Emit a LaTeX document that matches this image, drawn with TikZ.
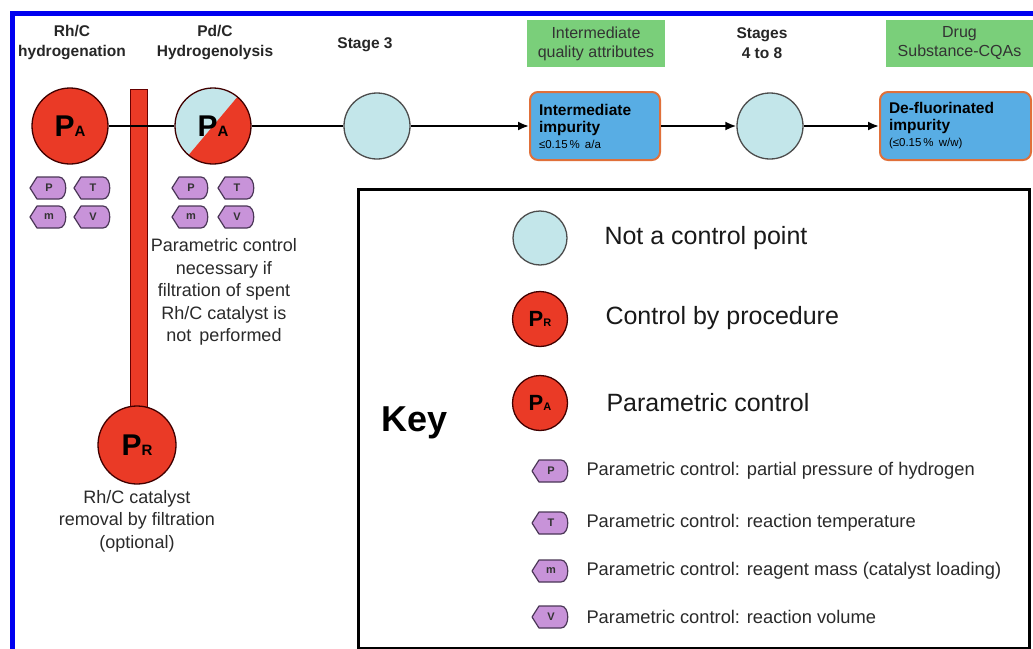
\documentclass[tikz,border=0pt]{standalone}
\usepackage{fontspec}
\setmainfont{Liberation Sans}
\usetikzlibrary{arrows.meta}
\definecolor{pred}{HTML}{EA3A26}
\definecolor{pblue}{HTML}{C3E6EA}
\definecolor{tagfill}{HTML}{C893D9}
\definecolor{tagline}{HTML}{4A3656}
\definecolor{boxblue}{HTML}{58ADE4}
\definecolor{boxline}{HTML}{E0703A}
\definecolor{grn}{HTML}{7ACF7A}
\definecolor{frameblue}{HTML}{0000F0}
\definecolor{txtgray}{HTML}{2A2A2A}
\newcommand\fsz[2]{\fontsize{#1}{#2}\selectfont}
\newcommand\PX[3]{{\fsz{#1}{#1}\bfseries P}{\fsz{#2}{#2}\bfseries #3}}
\tikzset{
  ctrl/.style={circle, draw=black!75!red, line width=1.3pt, fill=pred, minimum size=76pt, inner sep=0pt},
  nocp/.style={circle, draw=black!70, line width=1.3pt, fill=pblue, minimum size=66pt, inner sep=0pt},
  tagsh/.style={draw=tagline, fill=tagfill, line width=1.2pt, line join=round},
  tagn/.style={inner sep=0pt, font=\fsz{11}{12}\bfseries, text=black!80},
  qbox/.style={rectangle, rounded corners=8pt, draw=boxline, line width=2pt, fill=boxblue, minimum height=68pt,
    inner sep=9pt, align=left, font=\fsz{15.5}{17}\bfseries},
  gbox/.style={rectangle, fill=grn, minimum height=47pt, inner sep=0pt, align=center, font=\fsz{16}{19}, text=black!80},
  head/.style={align=center, font=\fsz{15.5}{20}\bfseries, text=black!85},
  note/.style={align=center, font=\fsz{18}{22.4}, text=txtgray},
  keytxt/.style={anchor=west, font=\fsz{25}{28}, text=black!90},
  tagtxt/.style={anchor=west, font=\fsz{18.3}{20}, text=txtgray},
  link/.style={line width=2pt, black},
  arr/.style={link, -{Latex[length=11pt,width=9pt]}}
}
% tag: name, x, y, letter
\newcommand\tagat[4]{%
  \draw[tagsh] (#2-18,#3) -- (#2-11,#3-11) -- (#2+11,#3-11) .. controls (#2+20,#3-11) and (#2+20,#3+11) .. (#2+11,#3+11) -- (#2-11,#3+11) -- cycle;
  \node[tagn] (#1) at (#2+1,#3) {#4};}
\begin{document}
\begin{tikzpicture}[x=1pt,y=-1pt]
\useasboundingbox (0,0) rectangle (1033,648);
\fill[white] (0,0) rectangle (1033,648);
% frame
\draw[frameblue, line width=5pt] (12,650) -- (12,13.5) -- (1035,13.5);
% headers
\node[head] (h1) at (72,43) {Rh/C\\hydrogenation};
\node[head] (h2) at (215,43) {Pd/C\\Hydrogenolysis};
\node[head] (h3) at (365,45) {Stage 3};
\node[gbox, minimum width=138pt] (g1) at (596,43.5) {Intermediate\\quality attributes};
\node[head] (h4) at (762,43) {Stages\\4 to 8};
\node[gbox, minimum width=147pt] (g2) at (959.5,43.5) {Drug\\Substance-CQAs};
% red bar
\node[rectangle, fill=pred, draw=black!60!red, line width=1pt, minimum width=17pt, minimum height=325pt, anchor=north, inner sep=0pt] (bar) at (138.5,89) {};
% main nodes
\node[ctrl] (pa1) at (70,126) {\PX{30}{15}{A}};
\node[circle, draw=black!75!red, line width=1.3pt, minimum size=76pt, inner sep=0pt,
  path picture={
    \fill[pblue] (path picture bounding box.north west) rectangle (path picture bounding box.south east);
    \fill[pred] ([shift={(-50:60)}]path picture bounding box.center) -- ([shift={(130:60)}]path picture bounding box.center)
      -- ([shift={(40:80)}]path picture bounding box.center) -- cycle;
  }] (pa2) at (213,126) {\PX{30}{15}{A}};
\node[nocp] (s3) at (377,126) {};
\node[qbox, minimum width=130pt, text width=112pt] (ib) at (595,126) {Intermediate\\impurity\\[-1pt]{\fsz{11.5}{13}\mdseries ≤0.15\,\% a/a}};
\node[nocp] (s48) at (770,126) {};
\node[qbox, minimum width=151pt, text width=133pt] (db) at (955.5,126) {De-fluorinated\\impurity\\[-1pt]{\fsz{11.5}{13}\mdseries (≤0.15\,\% w/w)}};
\draw[link] (pa1) -- (pa2);
\draw[link] (pa2) -- (s3);
\draw[arr] (s3) -- (ib);
\draw[arr] (ib) -- (s48);
\draw[arr] (s48) -- (db);
% tags
\tagat{t1p}{48}{188}{P}
\tagat{t1t}{92}{188}{T}
\tagat{t1m}{48}{217}{m}
\tagat{t1v}{92}{217}{V}
\tagat{t2p}{190}{188}{P}
\tagat{t2t}{236}{188}{T}
\tagat{t2m}{190}{217}{m}
\tagat{t2v}{236}{217}{V}
\node[note] (n1) at (224,292) {Parametric control\\necessary if\\filtration of spent\\Rh/C catalyst is\\not\, performed};
\node[ctrl, minimum size=78pt] (pr) at (137,445) {\PX{30}{15}{R}};
\node[note] (n2) at (137,521) {Rh/C catalyst\\removal by filtration\\(optional)};
% key
\node[rectangle, draw=black, line width=3pt, minimum width=671pt, minimum height=459pt, anchor=north west, inner sep=0pt] (key) at (356.5,187.5) {};
\node[font=\fsz{36}{40}\bfseries] (keyl) at (415,423) {Key};
\node[nocp, minimum size=54pt] (k1) at (540,238) {};
\node[keytxt] (k1t) at (601,238) {Not a control point};
\node[ctrl, minimum size=55pt] (k2) at (540,319) {\PX{22}{11}{R}};
\node[keytxt] (k2t) at (602,318) {Control by procedure};
\node[ctrl, minimum size=55pt] (k3) at (540,403) {\PX{22}{11}{A}};
\node[keytxt] (k3t) at (603,403) {Parametric control};
\tagat{kp}{550}{471}{P}
\node[tagtxt] (kpt) at (583,471) {Parametric control: partial pressure of hydrogen};
\tagat{kt}{550}{523}{T}
\node[tagtxt] (ktt) at (583,523) {Parametric control: reaction temperature};
\tagat{km}{550}{571}{m}
\node[tagtxt] (kmt) at (583,571) {Parametric control: reagent mass (catalyst loading)};
\tagat{kv}{550}{617}{V}
\node[tagtxt] (kvt) at (583,617) {Parametric control: reaction volume};
\end{tikzpicture}
\end{document}
